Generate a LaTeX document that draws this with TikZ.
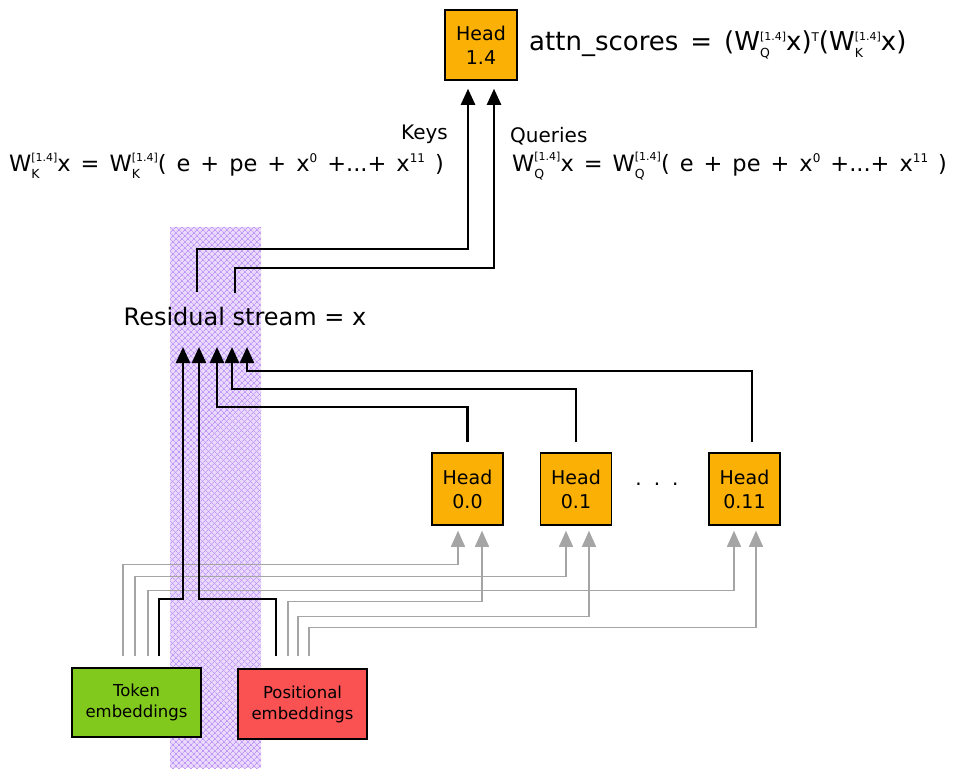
\documentclass[tikz,border=0pt]{standalone}
\usepackage{fontspec}
\setmainfont{DejaVu Sans}
\usetikzlibrary{arrows.meta,calc,patterns.meta}
\definecolor{headc}{RGB}{250,176,5}
\definecolor{tokc}{RGB}{130,201,30}
\definecolor{posc}{RGB}{250,82,82}
\definecolor{stripefill}{RGB}{234,218,252}
\definecolor{stripeline}{RGB}{192,150,246}
\definecolor{grayc}{RGB}{165,165,165}
\newcommand\Wm[1]{W\rlap{\raisebox{-7pt}{\fontsize{12.5}{12.5}\selectfont #1}}\raisebox{10.5pt}{\fontsize{11}{11}\selectfont[1.4]}}
\newcommand\sps[1]{\raisebox{9pt}{\fontsize{12}{12}\selectfont #1}}
\newcommand\widesp[1]{\spaceskip=#1\relax}
\begin{document}
\begin{tikzpicture}[x=1pt,y=-1pt,
  box/.style={draw=black,line width=1.5pt,align=center,inner sep=0pt,font=\fontsize{19}{24}\selectfont},
  headbox/.style={box,fill=headc,minimum width=71pt,minimum height=72pt},
  embbox/.style={box,minimum width=129pt,minimum height=70pt,font=\fontsize{16.5}{21}\selectfont},
  blk/.style={line width=2.3pt,black},
  gry/.style={line width=1.4pt,grayc},
  arr/.style={-{Triangle[length=16pt,width=14pt]}},
  lbl/.style={inner sep=0pt,font=\fontsize{20}{24}\selectfont}]
\useasboundingbox (0,0) rectangle (964,777);
% hatched stripe
\fill[stripefill] (170,227) rectangle (261,768);
\fill[pattern={Lines[angle=45,distance=4pt,line width=0.8pt]},pattern color=stripeline] (170,227) rectangle (261,768);
\fill[pattern={Lines[angle=-45,distance=4pt,line width=0.8pt]},pattern color=stripeline] (170,227) rectangle (261,768);
% nodes
\node[headbox,minimum width=72pt,minimum height=70pt] (head14) at (481,45) {Head\\1.4};
\node[headbox] (h00) at (467.5,489) {Head\\0.0};
\node[headbox] (h01) at (576,489) {Head\\0.1};
\node[headbox] (h011) at (744.5,489) {Head\\0.11};
\node[embbox,fill=tokc,minimum height=69pt] (tok) at (136.5,702.5) {Token\\embeddings};
\node[embbox,fill=posc] (pos) at (302.5,704) {Positional\\embeddings};
\node[lbl,font=\fontsize{24}{28}\selectfont] (res) at (245,317) {Residual stream = x};
\node[lbl,anchor=west,font={\fontsize{26}{30}\selectfont\widesp{12pt}}] (attn) at (529,45) {attn\_scores = (\Wm{Q}x)\sps{T}(\Wm{K}x)};
\node[lbl,anchor=east] (keys) at (448,134) {Keys};
\node[lbl,anchor=west] (queries) at (510,136) {Queries};
\node[lbl,anchor=east,font={\fontsize{22.5}{27}\selectfont\widesp{10pt}}] (fk) at (444,166) {\Wm{K}x = \Wm{K}( e + pe + x\sps{0} +...+ x\sps{11} )};
\node[lbl,anchor=west,font={\fontsize{22.5}{27}\selectfont\widesp{10pt}}] (fq) at (512,166) {\Wm{Q}x = \Wm{Q}( e + pe + x\sps{0} +...+ x\sps{11} )};
\node[lbl,font=\fontsize{20}{24}\selectfont] (dots) at (657,484) {.\hspace{12pt}.\hspace{12pt}.};
% gray connectors: embeddings -> layer 0 heads
\draw[gry,arr] ($(tok.north)+(-13.5,-11)$) |- ($(h00.south)+(-9.5,39)$) -- ($(h00.south)+(-9.5,5)$);
\draw[gry,arr] ($(tok.north)+(-1.5,-11)$) |- ($(h01.south)+(-10,51)$) -- ($(h01.south)+(-10,5)$);
\draw[gry,arr] ($(tok.north)+(11.5,-11)$) |- ($(h011.south)+(-10.5,65)$) -- ($(h011.south)+(-10.5,5)$);
\draw[gry,arr] ($(pos.north)+(-14.5,-12)$) |- ($(h00.south)+(14.5,76)$) -- ($(h00.south)+(14.5,5)$);
\draw[gry,arr] ($(pos.north)+(-4.5,-12)$) |- ($(h01.south)+(13,91)$) -- ($(h01.south)+(13,5)$);
\draw[gry,arr] ($(pos.north)+(6.5,-12)$) |- ($(h011.south)+(11.5,102)$) -- ($(h011.south)+(11.5,5)$);
% black connectors into residual stream
\draw[blk,arr] ($(tok.north)+(22.5,-11)$) |- ($(res.center)+(-62,282)$) -- ($(res.center)+(-62,30)$);
\draw[blk,arr] ($(pos.north)+(-26.5,-12)$) |- ($(res.center)+(-46,282)$) -- ($(res.center)+(-46,30)$);
\draw[blk,arr] ($(h00.north)+(0,-10)$) |- ($(res.center)+(-28,90)$) -- ($(res.center)+(-28,30)$);
\draw[blk,arr] ($(h01.north)+(0,-10)$) |- ($(res.center)+(-13,72)$) -- ($(res.center)+(-13,30)$);
\draw[blk,arr] ($(h011.north)+(7.5,-10)$) |- ($(res.center)+(2,54)$) -- ($(res.center)+(2,30)$);
% keys and queries to head 1.4
\draw[blk,arr] ($(res.center)+(-48,-25)$) |- ($(head14.south)+(-13,168)$) -- ($(head14.south)+(-13,8)$);
\draw[blk,arr] ($(res.center)+(-10,-24)$) |- ($(head14.south)+(13,187)$) -- ($(head14.south)+(13,8)$);
\end{tikzpicture}
\end{document}
